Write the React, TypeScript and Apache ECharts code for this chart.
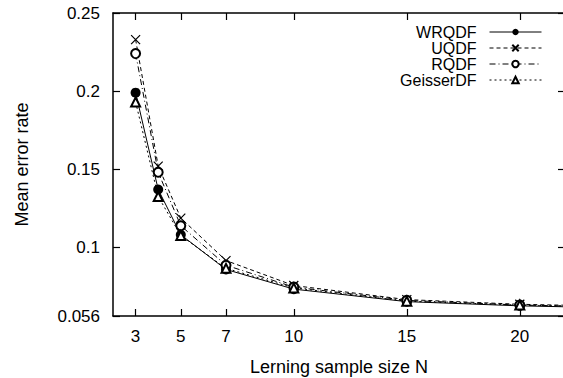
import React, { useEffect, useRef } from "react";
import * as echarts from "echarts";

const sampleSizes = [3, 4, 5, 7, 10, 15, 20, 25];
const wrqdf = [0.199, 0.137, 0.108, 0.0858, 0.0732, 0.0652, 0.0625, 0.061];
const uqdf = [0.233, 0.152, 0.1187, 0.0915, 0.0755, 0.0665, 0.0635, 0.062];
const rqdf = [0.224, 0.148, 0.1138, 0.0885, 0.0745, 0.066, 0.063, 0.0615];
const geisserdf = [0.193, 0.1325, 0.1075, 0.0865, 0.074, 0.0655, 0.063, 0.0615];
const xTicks = [3, 5, 7, 10, 15, 20];
const yTicks = [0.056, 0.1, 0.15, 0.2, 0.25];

const FONT = "'Liberation Sans', Arial, Helvetica, sans-serif";

export default function App() {
  const ref = useRef<HTMLDivElement>(null);
  useEffect(() => {
    document.body.style.margin = "0";
    if (!ref.current) return;
    const chart = echarts.init(ref.current, null, { renderer: "svg" });
    const pair = (ys: number[]) => sampleSizes.map((x, i) => [x, ys[i]]);
    const baseSeries = (name: string, ys: number[], symbol: string, dash: any, symbolSize: number, itemStyle: any) => ({
      name,
      type: "line",
      data: pair(ys),
      symbol,
      symbolSize,
      clip: true,
      lineStyle: { color: "#000", width: 1, type: dash },
      itemStyle,
      z: 3,
    });
    const xCommon = {
      type: "value",
      min: 2,
      max: 22,
      splitLine: { show: false },
      axisLine: { show: true, onZero: false, lineStyle: { color: "#000", width: 1.5 } },
      axisTick: { show: true, inside: true, length: 7, customValues: xTicks, lineStyle: { color: "#000", width: 1.2 } },
    };
    const yCommon = {
      type: "value",
      min: 0.056,
      max: 0.25,
      splitLine: { show: false },
      axisLine: { show: true, onZero: false, lineStyle: { color: "#000", width: 1.5 } },
      axisTick: { show: true, inside: true, length: 7, customValues: yTicks, lineStyle: { color: "#000", width: 1.2 } },
    };
    chart.setOption({
      animation: false,
      backgroundColor: "#fff",
      grid: { left: 113, right: -2, top: 13, bottom: 62, containLabel: false, outerBoundsMode: "none" },
      legend: {
        orient: "vertical",
        right: 21,
        top: 24,
        padding: 0,
        align: "right",
        itemWidth: 52,
        itemHeight: 8,
        itemGap: 0,
        lineStyle: { width: 1 },
        textStyle: { fontFamily: FONT, fontSize: 16, color: "#000", lineHeight: 16, padding: [0, 8, 0, 0] },
        data: ["WRQDF", "UQDF", "RQDF", "GeisserDF"],
      },
      xAxis: [
        {
          ...xCommon,
          position: "bottom",
          name: "Lerning sample size N",
          nameLocation: "middle",
          nameGap: 42,
          nameTextStyle: { fontFamily: FONT, fontSize: 18, color: "#000" },
          axisLabel: { show: true, customValues: xTicks, margin: 12, fontFamily: FONT, fontSize: 17, color: "#000" },
        },
        { ...xCommon, position: "top", axisLabel: { show: false } },
      ],
      yAxis: [
        {
          ...yCommon,
          position: "left",
          name: "Mean error rate",
          nameLocation: "middle",
          nameGap: 82,
          nameTextStyle: { fontFamily: FONT, fontSize: 18, color: "#000" },
          axisLabel: { show: true, customValues: yTicks, margin: 13, fontFamily: FONT, fontSize: 17, color: "#000" },
        },
        { ...yCommon, position: "right", axisLabel: { show: false } },
      ],
      series: [
        baseSeries("WRQDF", wrqdf, "circle", "solid", 10, { color: "#000" }),
        baseSeries("UQDF", uqdf, "path://M0,0L10,10M10,0L0,10", [4, 3], 9, { color: "none", borderColor: "#000", borderWidth: 1.2 }),
        baseSeries("RQDF", rqdf, "emptyCircle", [6, 3, 1, 3], 9, { color: "#000", borderWidth: 1.2 }),
        baseSeries("GeisserDF", geisserdf, "emptyTriangle", [2, 3], 9, { color: "#000", borderWidth: 1.2 }),
      ],
    });
    return () => chart.dispose();
  }, []);
  return (
    <div
      ref={ref}
      style={{ position: "absolute", left: 0, top: 0, width: 563, height: 378 }}
    />
  );
}
